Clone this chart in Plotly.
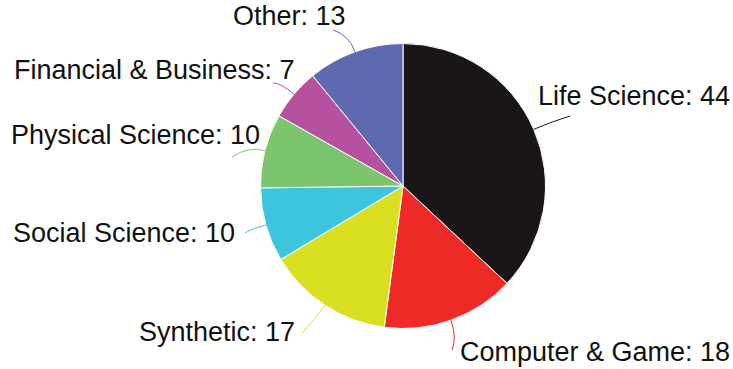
import math
import plotly.graph_objects as go

# Dataset counts by domain
categories = ["Life Science", "Computer & Game", "Synthetic", "Social Science",
              "Physical Science", "Financial & Business", "Other"]
counts = [44, 18, 17, 10, 10, 7, 13]
colors = ["#1a1617", "#ee2a27", "#dbdf22", "#3ec5de", "#7bc56e", "#b5519f", "#5f69b0"]

W, H = 733, 369
CX, CY, R = 403, 186, 142.5          # pie centre and radius in pixels
FONT = "Liberation Sans, Arial, Helvetica, sans-serif"

# label placement (pixels): text anchor x, text middle y, anchor side, leader end point
label_layout = {
    "Life Science":         dict(x=536, y=96,  side="left",  end=(570, 116)),
    "Computer & Game":      dict(x=458, y=352, side="left",  end=(452, 350)),
    "Synthetic":            dict(x=297, y=332, side="right", end=(302, 333)),
    "Social Science":       dict(x=237, y=233, side="right", end=(245, 233)),
    "Physical Science":     dict(x=262, y=135, side="right", end=(232, 157)),
    "Financial & Business": dict(x=297, y=70,  side="right", end=(273, 83)),
    "Other":                dict(x=348, y=16,  side="right", end=(333, 30)),
}


def px(x, y):
    """pixel -> paper coordinates"""
    return x / W, 1 - y / H


fig = go.Figure(go.Pie(
    labels=categories,
    values=counts,
    sort=False,
    direction="clockwise",
    rotation=0,
    marker=dict(colors=colors, line=dict(color="white", width=1)),
    textinfo="none",
    hoverinfo="label+value",
    showlegend=False,
    domain=dict(x=[(CX - R) / W, (CX + R) / W],
                y=[(H - CY - R) / H, (H - CY + R) / H]),
))

total = sum(counts)
shapes, annotations = [], []
cum = 0
for name, val, col in zip(categories, counts, colors):
    mid = (cum + val / 2) / total * 2 * math.pi   # clockwise from 12 o'clock
    cum += val
    sx, sy = CX + R * math.sin(mid), CY - R * math.cos(mid)
    cr = R + 18
    qx, qy = CX + cr * math.sin(mid), CY - cr * math.cos(mid)
    lay = label_layout[name]
    ex, ey = lay["end"]
    p0, p1, p2 = px(sx, sy), px(qx, qy), px(ex, ey)
    shapes.append(dict(
        type="path", xref="paper", yref="paper",
        path=f"M {p0[0]},{p0[1]} Q {p1[0]},{p1[1]} {p2[0]},{p2[1]}",
        line=dict(color=col, width=1),
    ))
    ax, ay = px(lay["x"], lay["y"])
    annotations.append(dict(
        x=ax, y=ay, xref="paper", yref="paper",
        text=f"{name}: {val}", showarrow=False,
        xanchor=lay["side"], yanchor="middle",
        font=dict(family=FONT, size=27, color="#111111"),
    ))

fig.update_layout(
    width=W, height=H,
    margin=dict(l=0, r=0, t=0, b=0),
    paper_bgcolor="white", plot_bgcolor="white",
    shapes=shapes, annotations=annotations,
)

fig.write_html("out.html")
